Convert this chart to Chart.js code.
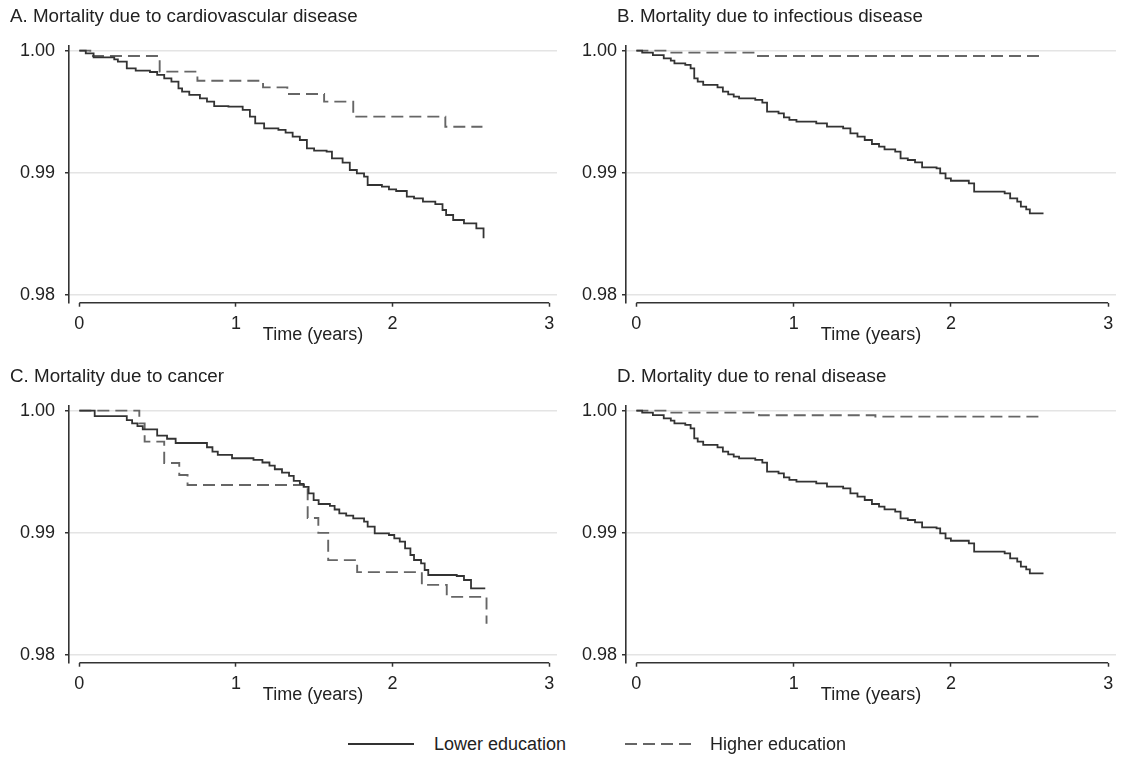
<!DOCTYPE html>
<html>
<head>
<meta charset="utf-8">
<script src="https://cdn.jsdelivr.net/npm/chart.js@4.4.1/dist/chart.umd.min.js"></script>
<style>
  html, body { margin: 0; padding: 0; background: #ffffff; }
  #wrap { position: relative; width: 1122px; height: 757px; overflow: hidden; font-family: "Liberation Sans", Arial, Helvetica, sans-serif; }
  canvas { position: absolute; }
  #legend { position: absolute; left: 0; top: 732px; width: 1122px; height: 24px; }
  .li { position: absolute; top: 0; height: 24px; line-height: 24px; font-size: 18px; color: #222; white-space: nowrap; }
  .li svg { position: absolute; top: 0; }
</style>
</head>
<body>
<div id="wrap">
  <canvas id="pA"></canvas>
  <canvas id="pB"></canvas>
  <canvas id="pC"></canvas>
  <canvas id="pD"></canvas>
  <div id="legend"></div>
</div>
<script>
// ---------------- DATA ----------------
const xTicks = [0, 1, 2, 3];
const yTicks = [0.98, 0.99, 1.00];
const xTitle = 'Time (years)';
const seriesNames = ['Lower education', 'Higher education'];
const panelTitles = [
  'A. Mortality due to cardiovascular disease',
  'B. Mortality due to infectious disease',
  'C. Mortality due to cancer',
  'D. Mortality due to renal disease'
];

// Panel A – cardiovascular
const cvdLowT  = [0, 0.041, 0.091, 0.223, 0.246, 0.303, 0.360, 0.451, 0.497, 0.542, 0.588, 0.633, 0.656, 0.702, 0.770, 0.815, 0.861, 0.952, 1.043, 1.089, 1.123, 1.180, 1.271, 1.317, 1.362, 1.408, 1.453, 1.499, 1.579, 1.613, 1.681, 1.727, 1.772, 1.818, 1.841, 1.932, 1.977, 2.023, 2.091, 2.137, 2.194, 2.273, 2.319, 2.342, 2.387, 2.456, 2.535, 2.581];
const cvdLowV  = [1.0, 0.99978, 0.99945, 0.99929, 0.99910, 0.99855, 0.99836, 0.99825, 0.99801, 0.99773, 0.99746, 0.99691, 0.99664, 0.99637, 0.99609, 0.99582, 0.99546, 0.99541, 0.99514, 0.99459, 0.99404, 0.99363, 0.99350, 0.99328, 0.99295, 0.99268, 0.99199, 0.99180, 0.99172, 0.99117, 0.99082, 0.99022, 0.98995, 0.98967, 0.98899, 0.98885, 0.98863, 0.98850, 0.98803, 0.98790, 0.98762, 0.98743, 0.98694, 0.98653, 0.98612, 0.98585, 0.98544, 0.98462];
const cvdHighT = [0, 0.07, 0.513, 0.754, 1.173, 1.328, 1.563, 1.749, 2.337, 2.574];
const cvdHighV = [1.0, 0.99956, 0.99828, 0.99754, 0.99699, 0.99645, 0.99582, 0.99459, 0.99377, 0.99377];

// Panel B – infectious
const infLowT  = [0, 0.037, 0.105, 0.174, 0.219, 0.242, 0.311, 0.345, 0.368, 0.390, 0.425, 0.516, 0.550, 0.584, 0.619, 0.653, 0.756, 0.801, 0.831, 0.904, 0.938, 0.973, 1.018, 1.144, 1.212, 1.315, 1.361, 1.406, 1.452, 1.498, 1.543, 1.578, 1.646, 1.680, 1.726, 1.772, 1.817, 1.909, 1.932, 1.966, 2.000, 2.114, 2.148, 2.342, 2.377, 2.422, 2.445, 2.479, 2.502, 2.589];
const infLowV  = [1.0, 0.99984, 0.99964, 0.99937, 0.99918, 0.99896, 0.99883, 0.99855, 0.99773, 0.99746, 0.99719, 0.99699, 0.99664, 0.99642, 0.99623, 0.99609, 0.99596, 0.99574, 0.99500, 0.99486, 0.99454, 0.99432, 0.99418, 0.99404, 0.99377, 0.99363, 0.99322, 0.99295, 0.99268, 0.99235, 0.99213, 0.99191, 0.99172, 0.99117, 0.99104, 0.99085, 0.99044, 0.99036, 0.98995, 0.98954, 0.98934, 0.98913, 0.98844, 0.98831, 0.98790, 0.98762, 0.98721, 0.98699, 0.98667, 0.98667];
const infHighT = [0, 0.196, 0.767, 2.589];
const infHighV = [1.0, 0.99984, 0.99956, 0.99956];

// Panel C – cancer
const canLowT  = [0, 0.098, 0.303, 0.337, 0.371, 0.405, 0.497, 0.560, 0.615, 0.815, 0.850, 0.884, 0.975, 1.112, 1.169, 1.214, 1.248, 1.294, 1.339, 1.369, 1.408, 1.432, 1.464, 1.496, 1.528, 1.600, 1.630, 1.660, 1.704, 1.749, 1.818, 1.841, 1.886, 1.977, 2.011, 2.046, 2.080, 2.114, 2.137, 2.182, 2.205, 2.228, 2.410, 2.456, 2.501, 2.592];
const canLowV  = [1.0, 0.99956, 0.99923, 0.99896, 0.99874, 0.99847, 0.99795, 0.99770, 0.99735, 0.99700, 0.99664, 0.99637, 0.99610, 0.99596, 0.99575, 0.99550, 0.99520, 0.99492, 0.99465, 0.99425, 0.99400, 0.99376, 0.99322, 0.99267, 0.99235, 0.99220, 0.99190, 0.99158, 0.99139, 0.99117, 0.99090, 0.99049, 0.98995, 0.98981, 0.98954, 0.98926, 0.98872, 0.98817, 0.98776, 0.98749, 0.98694, 0.98653, 0.98645, 0.98612, 0.98544, 0.98544];
const canHighT = [0, 0.383, 0.417, 0.542, 0.638, 0.691, 1.458, 1.526, 1.589, 1.774, 2.187, 2.346, 2.600];
const canHighV = [1.0, 0.99896, 0.99746, 0.99571, 0.99473, 0.99391, 0.99120, 0.98998, 0.98775, 0.98677, 0.98572, 0.98474, 0.98253];

// Panel D – renal
const renLowT  = [0, 0.037, 0.105, 0.174, 0.219, 0.242, 0.311, 0.345, 0.368, 0.390, 0.425, 0.516, 0.550, 0.584, 0.619, 0.653, 0.756, 0.801, 0.831, 0.904, 0.938, 0.973, 1.018, 1.144, 1.212, 1.315, 1.361, 1.406, 1.452, 1.498, 1.543, 1.578, 1.646, 1.680, 1.726, 1.772, 1.817, 1.909, 1.932, 1.966, 2.000, 2.114, 2.148, 2.342, 2.377, 2.422, 2.445, 2.479, 2.502, 2.589];
const renLowV  = [1.0, 0.99984, 0.99964, 0.99937, 0.99918, 0.99896, 0.99883, 0.99855, 0.99773, 0.99746, 0.99719, 0.99699, 0.99664, 0.99642, 0.99623, 0.99609, 0.99596, 0.99574, 0.99500, 0.99486, 0.99454, 0.99432, 0.99418, 0.99404, 0.99377, 0.99363, 0.99322, 0.99295, 0.99268, 0.99235, 0.99213, 0.99191, 0.99172, 0.99117, 0.99104, 0.99085, 0.99044, 0.99036, 0.98995, 0.98954, 0.98934, 0.98913, 0.98844, 0.98831, 0.98790, 0.98762, 0.98721, 0.98699, 0.98667, 0.98667];
const renHighT = [0, 0.196, 0.78, 1.52, 2.589];
const renHighV = [1.0, 0.99984, 0.99962, 0.99951, 0.99951];

// ---------------- STYLE / LAYOUT ----------------
const FONT = '"Liberation Sans", Arial, Helvetica, sans-serif';
const FS = 18;
const TITLE_FS = 18.8;
const TEXT = '#222222';
const AXIS = '#333333';
const GRID = '#e4e4e4';
const LOW_COLOR = '#333333';
const HIGH_COLOR = '#666666';
const X_MIN = -0.066, X_MAX = 3.05;
const Y_MIN = 0.979344, Y_MAX = 1.00041;

Chart.defaults.font.family = FONT;
Chart.defaults.font.size = FS;
Chart.defaults.color = TEXT;

const xAxisLine = {
  id: 'xAxisLine',
  afterLayout(chart, args, opts) {
    if (chart.titleBlock && opts.titleLeft != null) {
      chart.titleBlock.left = opts.titleLeft;
    }
  },
  afterDatasetsDraw(chart) {
    const xs = chart.scales.x, ctx = chart.ctx;
    const y = chart.chartArea.bottom;
    ctx.save();
    ctx.strokeStyle = AXIS;
    ctx.lineWidth = 1.6;
    ctx.beginPath();
    ctx.moveTo(xs.getPixelForValue(xTicks[0]), y);
    ctx.lineTo(xs.getPixelForValue(xTicks[xTicks.length - 1]), y);
    ctx.stroke();
    ctx.restore();
  }
};

function pts(ts, vs) { return ts.map((t, i) => ({ x: t, y: vs[i] })); }

function makePanel(id, geom, title, lowT, lowV, highT, highV) {
  const cv = document.getElementById(id);
  cv.width = geom.w; cv.height = geom.h;
  cv.style.left = geom.left + 'px'; cv.style.top = geom.top + 'px';
  cv.style.width = geom.w + 'px'; cv.style.height = geom.h + 'px';
  return new Chart(cv, {
    type: 'line',
    data: {
      datasets: [
        { label: seriesNames[0], data: pts(lowT, lowV), borderColor: LOW_COLOR, borderWidth: 1.8,
          stepped: 'before', pointRadius: 0, fill: false, borderCapStyle: 'butt' },
        { label: seriesNames[1], data: pts(highT, highV), borderColor: HIGH_COLOR, borderWidth: 1.9,
          borderDash: [12, 6], stepped: 'before', pointRadius: 0, fill: false, borderCapStyle: 'butt' }
      ]
    },
    options: {
      responsive: false, animation: false, devicePixelRatio: 1,
      layout: { padding: { left: geom.padL, right: geom.padR, top: 0, bottom: geom.padB } },
      plugins: {
        legend: { display: false },
        tooltip: { enabled: false },
        title: { display: true, text: title, align: 'start', color: TEXT,
                 font: { size: TITLE_FS, weight: 'normal' }, padding: { top: 5.5, bottom: 17.6 } },
        xAxisLine: { titleLeft: geom.titleL }
      },
      scales: {
        x: {
          type: 'linear', min: X_MIN, max: X_MAX,
          afterBuildTicks: s => { s.ticks = xTicks.map(v => ({ value: v })); },
          afterFit: s => { s.height = 43.5; s.paddingLeft = 0; s.paddingRight = 0; },
          ticks: { color: TEXT, padding: 7, maxRotation: 0, autoSkip: false, font: { size: FS },
                   callback: v => String(v) },
          grid: { drawOnChartArea: false, drawTicks: true, tickLength: 4, tickColor: AXIS, tickWidth: 1.5 },
          border: { display: false },
          title: { display: true, text: xTitle, color: TEXT, font: { size: FS }, padding: { top: 0, bottom: 0 } }
        },
        y: {
          type: 'linear', min: Y_MIN, max: Y_MAX,
          afterBuildTicks: s => { s.ticks = yTicks.map(v => ({ value: v })); },
          afterFit: s => { s.width = geom.yW; s.paddingTop = 0; s.paddingBottom = 0; },
          ticks: { color: TEXT, padding: geom.yPad, font: { size: FS }, callback: v => Number(v).toFixed(2) },
          grid: { color: GRID, lineWidth: 1.5, drawTicks: true, tickLength: 4, tickColor: AXIS, tickWidth: 1.5 },
          border: { display: true, color: AXIS, width: 1.6 }
        }
      }
    },
    plugins: [xAxisLine]
  });
}

const leftGeom  = { w: 561, h: 360, padL: 8,  padR: 4, padB: 13.8, yW: 61, yPad: 10, titleL: 10 };
const rightGeom = { w: 562, h: 360, padL: 14, padR: 6, padB: 13.8, yW: 52, yPad: 5,  titleL: 57 };

makePanel('pA', Object.assign({ left: 0,   top: 0 },   leftGeom),  panelTitles[0], cvdLowT, cvdLowV, cvdHighT, cvdHighV);
makePanel('pB', Object.assign({ left: 560, top: 0 },   rightGeom), panelTitles[1], infLowT, infLowV, infHighT, infHighV);
makePanel('pC', Object.assign({ left: 0,   top: 360 }, leftGeom),  panelTitles[2], canLowT, canLowV, canHighT, canHighV);
makePanel('pD', Object.assign({ left: 560, top: 360 }, rightGeom), panelTitles[3], renLowT, renLowV, renHighT, renHighV);

// ---------------- LEGEND ----------------
const legend = document.getElementById('legend');
const legendItems = [
  { name: seriesNames[0], color: LOW_COLOR, dash: '', lineLeft: 348, textLeft: 434 },
  { name: seriesNames[1], color: HIGH_COLOR, dash: '12 6', lineLeft: 625, textLeft: 710 }
];
legendItems.forEach(it => {
  const d = document.createElement('div');
  d.className = 'li';
  d.style.left = it.lineLeft + 'px';
  d.style.width = '600px';
  const svgNS = 'http://www.w3.org/2000/svg';
  const svg = document.createElementNS(svgNS, 'svg');
  svg.setAttribute('width', '66'); svg.setAttribute('height', '24');
  svg.style.left = '0px';
  const ln = document.createElementNS(svgNS, 'line');
  ln.setAttribute('x1', '0'); ln.setAttribute('x2', '66');
  ln.setAttribute('y1', '12'); ln.setAttribute('y2', '12');
  ln.setAttribute('stroke', it.color); ln.setAttribute('stroke-width', '1.8');
  if (it.dash) ln.setAttribute('stroke-dasharray', it.dash);
  svg.appendChild(ln);
  d.appendChild(svg);
  const sp = document.createElement('span');
  sp.textContent = it.name;
  sp.style.position = 'absolute';
  sp.style.left = (it.textLeft - it.lineLeft) + 'px';
  d.appendChild(sp);
  legend.appendChild(d);
});
</script>
</body>
</html>
